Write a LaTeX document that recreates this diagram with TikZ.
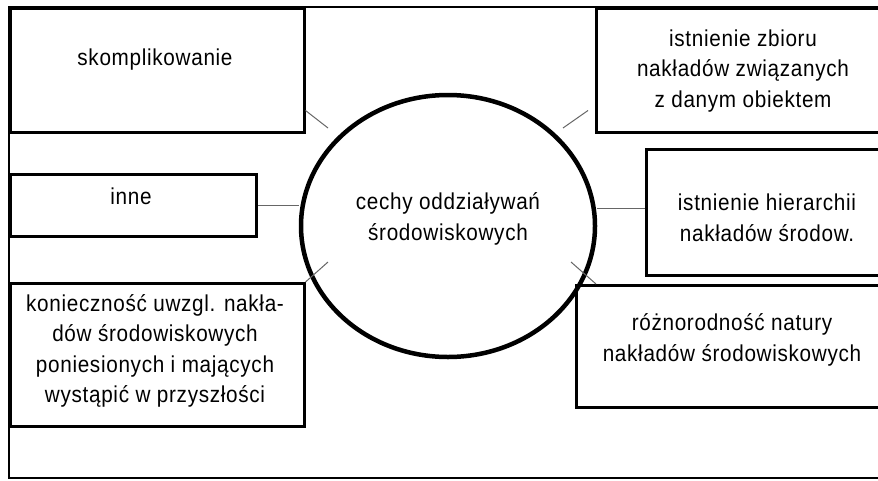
\documentclass[tikz,border=0pt]{standalone}
\usepackage{fontspec}
\setmainfont{Liberation Sans}[FakeStretch=0.9, LetterSpace=3]
\usetikzlibrary{shapes.geometric}

\begin{document}
\begin{tikzpicture}[x=1pt,y=-1pt]

        \clip (0,0) rectangle (878,480);
        \fill[white] (0,0) rectangle (878,480);
        \draw[line width=2.5pt] (9,7) rectangle (900,478);

        \begin{scope}[every node/.style={draw, rectangle, line width=2.5pt, anchor=north west, inner sep=0pt}]
          \node[minimum width=294, minimum height=124] (skomp) at (9,7)     {};
          \node[minimum width=246, minimum height=62]  (inne)  at (9,173)   {};
          \node[minimum width=294, minimum height=143] (konie) at (9,282)   {};
          \node[minimum width=296, minimum height=124] (zbior) at (595,7)   {};
          \node[minimum width=244, minimum height=126] (hier)  at (645,148) {};
          \node[minimum width=314, minimum height=122] (rozn)  at (575,284) {};
        \end{scope}

        \node[ellipse, draw, line width=4.5pt, minimum width=294, minimum height=262] (cechy) at (448,226) {};

        \begin{scope}[every node/.style={align=center, font=\fontsize{23}{30.5}\selectfont}]
          \node at (155,60)  {skomplikowanie};
          \node at (131,196) {inne};
          \node at (155,351) {konieczność uwzgl. nakła-\\dów środowiskowych\\poniesionych i mających\\wystąpić  w przyszłości};
          \node at (743,71)  {istnienie zbioru\\nakładów związanych\\z danym obiektem};
          \node at (767,218) {istnienie hierarchii\\nakładów środow.};
          \node at (732,340) {różnorodność natury\\nakładów środowiskowych};
          \node at (448,219) {cechy oddziaływań\\środowiskowych};
        \end{scope}

        \coordinate (k1) at (328,128);
        \coordinate (k2) at (563,128);
        \coordinate (k5) at (328,262);
        \coordinate (k6) at (571,262);

        \begin{scope}[every edge/.style={draw, line width=1pt, black!60}]
          \path ([yshift=23]skomp.south east)         edge (k1);
          \path ([xshift=-7,yshift=23]zbior.south west) edge (k2);
          \path (inne.east)                           edge (inne.east -| cechy.west);
          \path ([yshift=4]hier.west)                 edge ([yshift=4]hier.west -| cechy.east);
          \path (konie.north east)                    edge (k5);
          \path ([xshift=21]rozn.north west)          edge (k6);
        \end{scope}

      \end{tikzpicture}
\end{document}
